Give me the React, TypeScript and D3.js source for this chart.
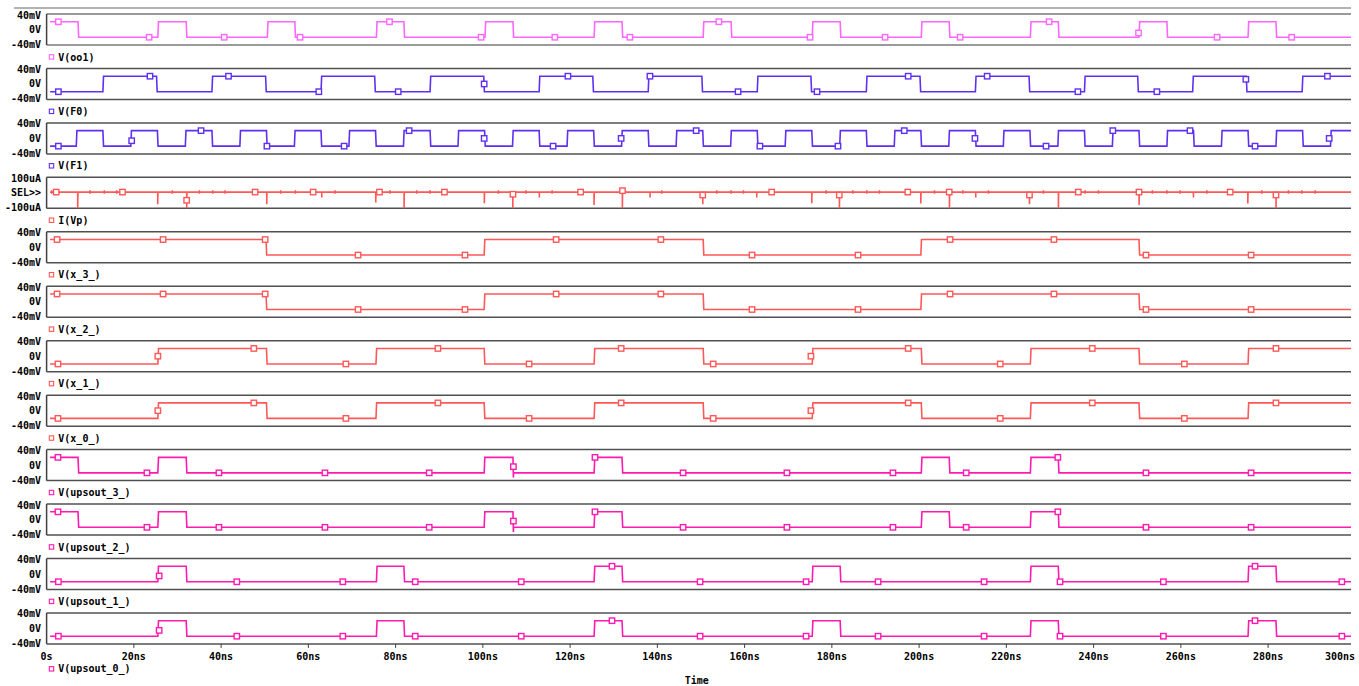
import React from 'react';
import * as d3 from 'd3';

// ---------- data (times in ns, values in mV / uA) ----------
const T_START = 0.8;
const T_END = 299;

const oo1High = [[0, 7.2], [25.5, 32.0], [50.6, 56.9], [75.6, 81.9], [100.5, 106.9], [125.5, 131.9], [150.5, 156.9], [175.5, 181.9], [200.5, 206.9], [225.5, 231.9], [250.4, 256.8], [275.4, 281.8]];
const f0High = [[12.9, 25.2], [37.9, 50.2], [62.9, 75.2], [87.9, 100.2], [112.9, 125.2], [137.9, 150.2], [162.9, 175.2], [187.9, 200.2], [212.9, 225.2], [237.9, 250.1], [262.7, 275.0], [287.8, 299]];
const f1High = [[6.8, 12.9], [19.3, 25.4], [31.8, 37.9], [44.3, 50.4], [56.8, 62.9], [69.3, 75.4], [81.8, 87.9], [94.3, 100.4], [106.8, 112.9], [119.3, 125.4], [131.8, 137.9], [144.3, 150.4], [156.8, 162.9], [169.3, 175.4], [181.8, 187.9], [194.3, 200.4], [206.8, 212.9], [219.3, 225.4], [231.8, 237.9], [244.3, 250.4], [256.8, 262.9], [269.3, 275.4], [281.8, 287.9], [294.3, 299]];
const x3High = [[0, 50.3], [100.3, 150.5], [200.4, 250.4]];
const x1High = [[25.5, 50.4], [75.5, 100.3], [125.5, 150.5], [175.5, 200.5], [225.5, 250.4], [275.4, 299]];
const ups3High = [[0, 7.2], [25.5, 32.0], [100.3, 106.9], [125.5, 131.9], [200.5, 206.9], [225.5, 231.9]];
const ups1High = [[25.5, 32.0], [75.6, 81.9], [125.5, 131.9], [175.5, 181.9], [225.5, 231.9], [275.4, 281.8]];
const ups3Glitch = [[107.0, -32]];

const oo1Markers = [[2.7, 20], [23.5, -20], [40.7, -20], [58.1, -20], [78.6, 20], [99.6, -20], [116.5, -20], [133.7, -20], [154.1, 20], [175.0, -20], [192.2, -20], [209.4, -20], [229.8, 20], [250.3, -9], [268.3, -20], [285.4, -20]];
const f0Markers = [[2.7, -20], [23.7, 20], [41.7, 20], [62.4, -20], [80.6, -20], [100.3, 0], [119.5, 20], [138.3, 20], [158.5, -20], [176.6, -20], [197.5, 20], [215.6, 20], [236.4, -20], [254.5, -20], [274.9, 12], [293.6, 20]];
const f1Markers = [[2.7, -20], [19.5, -6], [35.4, 20], [50.5, -20], [68.2, -20], [83.1, 20], [100.3, 0], [116.1, -20], [131.7, 0], [148.9, 20], [163.5, -20], [181.4, -20], [196.6, 20], [212.8, 0], [229.1, -20], [244.4, 20], [262.1, 20], [277.0, -20], [294.0, 0]];
const x3Markers = [[2.4, 20], [26.7, 20], [50.1, 20], [71.4, -20], [95.9, -20], [116.8, 20], [140.8, 20], [161.7, -20], [186.0, -20], [207.1, 20], [230.9, 20], [252.0, -20], [276.1, -20]];
const x1Markers = [[2.6, -20], [25.5, 0], [47.5, 20], [68.6, -20], [89.7, 20], [110.6, -20], [131.7, 20], [152.8, -20], [175.2, 0], [197.5, 20], [218.6, -20], [239.7, 20], [260.8, -20], [281.8, 20]];
const ups3Markers = [[2.6, 20], [23.0, -20], [39.5, -20], [63.8, -20], [87.7, -20], [107.0, -4], [125.7, 20], [145.9, -20], [169.7, -20], [194.0, -20], [210.8, -20], [231.8, 20], [252.0, -20], [276.1, -20]];
const ups1Markers = [[2.7, -20], [25.8, -5], [43.6, -20], [67.9, -20], [84.5, -20], [108.8, -20], [129.6, 20], [149.8, -20], [174.1, -20], [190.6, -20], [214.9, -20], [232.3, -20], [256.0, -20], [277.0, 20], [296.9, -20]];

// I(Vp) in uA
const ivpBase = 5;
const ivpLongSpikes = [7.13, 32.12, 81.94, 106.86, 131.98, 181.73, 206.95, 231.93, 281.82];
const ivpMedSpikes = [[25.47, -73], [50.46, -73], [75.45, -63], [100.34, -67], [125.49, -78], [150.41, -73], [175.4, -67], [200.39, -69], [225.29, -73], [250.43, -78], [275.35, -69]];
const ivpSmallTicks = [1.17, 9.95, 13.23, 16.07, 28.82, 35.01, 38.08, 40.9, 53.67, 57.02, 66.12, 78.73, 84.85, 87.9, 103.55, 109.9, 115.87, 141.01, 153.62, 156.9, 159.72, 178.68, 184.8, 188.01, 190.9, 203.51, 210.02, 215.89, 228.5, 238.06, 241.11, 253.48, 256.79, 259.84, 265.96, 278.57, 284.66, 287.74, 290.79];
const ivpShortDown = [63.07, 112.95, 138.33, 162.79, 212.99, 262.88];
const ivpMarkers = [[2.2, 5], [17.4, 5], [32.1, -48], [47.8, 5], [61.1, 5], [76.3, 5], [91.2, 5], [106.9, -9], [122.4, 5], [132.0, 14], [150.4, -14], [166.2, 5], [181.7, -14], [197.4, 5], [206.9, 5], [225.3, -14], [236.5, 5], [250.4, 5], [271.3, 5], [281.8, -14]];

const xTickValues = [0, 20, 40, 60, 80, 100, 120, 140, 160, 180, 200, 220, 240, 260, 280, 300];
const xTickLabels = ['0s', '20ns', '40ns', '60ns', '80ns', '100ns', '120ns', '140ns', '160ns', '180ns', '200ns', '220ns', '240ns', '260ns', '280ns', '300ns'];
const vTickLabels = ['40mV', '0V', '-40mV'];
const iTickLabels = ['100uA', 'SEL>>', '-100uA'];

// ---------- styles ----------
const C_OO1 = '#ff66ff';
const C_F = '#6030f0';
const C_RED = '#ff5858';
const C_UPS = '#ff1ab0';

type Panel = { label: string; color: string; high?: number[][]; glitch?: number[][]; markers: number[][]; current?: boolean };
const panels: Panel[] = [
  { label: 'V(oo1)', color: C_OO1, high: oo1High, markers: oo1Markers },
  { label: 'V(F0)', color: C_F, high: f0High, markers: f0Markers },
  { label: 'V(F1)', color: C_F, high: f1High, markers: f1Markers },
  { label: 'I(Vp)', color: C_RED, current: true, markers: ivpMarkers },
  { label: 'V(x_3_)', color: C_RED, high: x3High, markers: x3Markers },
  { label: 'V(x_2_)', color: C_RED, high: x3High, markers: x3Markers },
  { label: 'V(x_1_)', color: C_RED, high: x1High, markers: x1Markers },
  { label: 'V(x_0_)', color: C_RED, high: x1High, markers: x1Markers },
  { label: 'V(upsout_3_)', color: C_UPS, high: ups3High, glitch: ups3Glitch, markers: ups3Markers },
  { label: 'V(upsout_2_)', color: C_UPS, high: ups3High, glitch: ups3Glitch, markers: ups3Markers },
  { label: 'V(upsout_1_)', color: C_UPS, high: ups1High, markers: ups1Markers },
  { label: 'V(upsout_0_)', color: C_UPS, high: ups1High, markers: ups1Markers },
];

const W = 1359, H = 686;
const X0 = 46.6, X1 = 1351;
const TOP0 = 14, STEP = 54.45, PH = 31;
const FONT = "'DejaVu Sans Mono', monospace";

function digitalPoints(high: number[][], glitch: number[][] = []): [number, number][] {
  const R = 0.15;
  const pts: [number, number][] = [];
  const startHigh = high.some(([a, b]) => a <= T_START && b > T_START);
  pts.push([T_START, startHigh ? 20 : -20]);
  let last = startHigh ? 20 : -20;
  for (const [a, b] of high) {
    if (a > T_START) { pts.push([a, -20]); pts.push([a + R, 20]); last = 20; }
    if (b < T_END) { pts.push([b, 20]); pts.push([b + R, -20]); last = -20; }
  }
  pts.push([T_END, last]);
  for (const g of glitch) pts.push([g[0], g[1]]);
  pts.sort((p, q) => p[0] - q[0]);
  return pts;
}

function currentPoints(): [number, number][] {
  const ev: { t: number; p: [number, number][] }[] = [];
  const b = ivpBase;
  for (const t of ivpLongSpikes) ev.push({ t, p: [[t, b], [t, -100], [t + 0.05, b]] });
  for (const [t, v] of ivpMedSpikes) ev.push({ t, p: [[t, b], [t, v], [t + 0.05, b]] });
  for (const t of ivpSmallTicks) ev.push({ t, p: [[t, b], [t, b + 12], [t, b - 10], [t, b]] });
  for (const t of ivpShortDown) ev.push({ t, p: [[t, b], [t, -30], [t, b]] });
  ev.sort((a, c) => a.t - c.t);
  const pts: [number, number][] = [[T_START, b]];
  for (const e of ev) pts.push(...e.p);
  pts.push([T_END, b]);
  return pts;
}

export default function App() {
  const x = d3.scaleLinear().domain([0, T_END]).range([X0, X1]);
  const bottomLast = TOP0 + 11 * STEP + PH;

  return (
    <svg width={W} height={H} style={{ position: 'absolute', left: 0, top: 0, background: '#fff' }}
      fontFamily={FONT} fontWeight="bold" fontSize={10}>
      <rect x={0} y={0} width={W} height={H} fill="#fff" />
      <line x1={14} x2={X1} y1={8} y2={8} stroke="#666" strokeWidth={1} />
      {panels.map((p, i) => {
        const top = TOP0 + i * STEP;
        const bot = top + PH;
        const y = d3.scaleLinear().domain(p.current ? [-100, 100] : [-40, 40]).range([bot, top]);
        const pts = p.current ? currentPoints() : digitalPoints(p.high!, p.glitch);
        const line = d3.line<[number, number]>().x(d => x(d[0])).y(d => y(d[1]));
        const labels = p.current ? iTickLabels : vTickLabels;
        const borderColor = i === 0 ? '#9a9a9a' : '#505050';
        const borderW = i === 0 ? 2 : 1.5;
        return (
          <g key={p.label}>
            <defs>
              <clipPath id={`clip${i}`}>
                <rect x={X0} y={top - 1} width={X1 - X0 + 1} height={PH + 2} />
              </clipPath>
            </defs>
            <line x1={X0} x2={X1} y1={top} y2={top} stroke={borderColor} strokeWidth={borderW} />
            <line x1={X0} x2={X1} y1={bot} y2={bot} stroke={borderColor} strokeWidth={borderW} />
            <line x1={X0} x2={X0} y1={top} y2={bot} stroke="#404040" strokeWidth={1.5} />
            <text x={41} y={top + 1} textAnchor="end" dominantBaseline="central">{labels[0]}</text>
            <text x={41} y={(top + bot) / 2} textAnchor="end" dominantBaseline="central">{labels[1]}</text>
            <text x={41} y={bot - 0.5} textAnchor="end" dominantBaseline="central">{labels[2]}</text>
            <g clipPath={`url(#clip${i})`}>
              <path d={line(pts) || ''} fill="none" stroke={p.color} strokeWidth={1.6} />
              {p.markers.map((m, k) => (
                <rect key={k} x={x(m[0]) - 2.7} y={y(m[1]) - 2.7} width={5.4} height={5.4}
                  fill="#fff" stroke={p.color} strokeWidth={1.4} />
              ))}
            </g>
            {(() => {
              const ly = i === 11 ? bot + 25 : bot + 12;
              return (
                <g>
                  <rect x={49.3} y={ly - 2.3} width={4.4} height={4.4} fill="#fff" stroke={p.color} strokeWidth={1.1} />
                  <text x={58.3} y={ly} dominantBaseline="central">{p.label}</text>
                </g>
              );
            })()}
          </g>
        );
      })}
      {xTickValues.map((v, k) => {
        const px = x(v);
        const inside = px <= X1 + 0.5;
        const lx = Math.min(px, 1340);
        return (
          <g key={v}>
            {inside && k > 0 && <line x1={px} x2={px} y1={bottomLast} y2={bottomLast + 4} stroke="#404040" strokeWidth={1} />}
            <text x={lx} y={bottomLast + 13} textAnchor="middle" dominantBaseline="central">{xTickLabels[k]}</text>
          </g>
        );
      })}
      <text x={696.7} y={680.7} textAnchor="middle" dominantBaseline="central">Time</text>
    </svg>
  );
}
